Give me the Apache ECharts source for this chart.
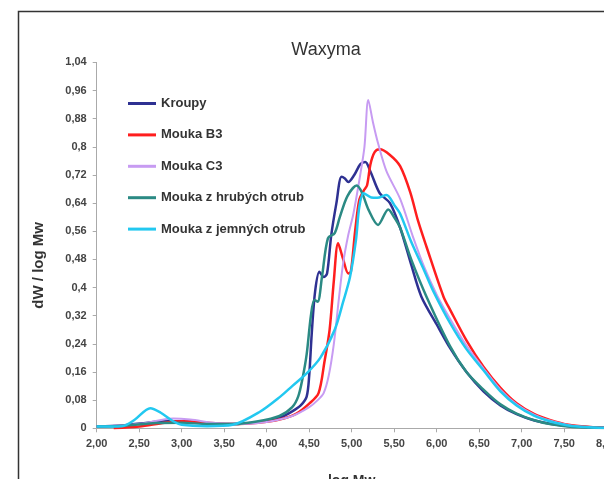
<!DOCTYPE html>
<html>
<head>
<meta charset="utf-8">
<script src="https://cdn.jsdelivr.net/npm/echarts@6/dist/echarts.min.js"></script>
<style>
	html, body { margin: 0; padding: 0; background: #fff; }
	#chart { width: 604px; height: 479px; }
</style>
</head>
<body>
<div id="chart"></div>
<script>
// data: [log Mw, dW / log Mw]
var seriesNames = ['Kroupy', 'Mouka B3', 'Mouka C3', 'Mouka z hrubých otrub', 'Mouka z jemných otrub'];

var kroupy = [[2.00,0.005],[2.30,0.008],[2.60,0.016],[2.80,0.02],[3.00,0.02],[3.30,0.014],[3.60,0.012],[3.90,0.018],[4.15,0.03],[4.30,0.048],[4.40,0.065],[4.47,0.09],[4.50,0.15],[4.53,0.27],[4.57,0.39],[4.62,0.445],[4.67,0.43],[4.71,0.44],[4.76,0.55],[4.82,0.64],[4.88,0.715],[4.92,0.71],[4.96,0.70],[5.03,0.72],[5.10,0.75],[5.16,0.757],[5.22,0.73],[5.33,0.668],[5.45,0.64],[5.57,0.57],[5.70,0.465],[5.82,0.374],[6.00,0.295],[6.16,0.227],[6.35,0.16],[6.55,0.105],[6.75,0.065],[6.94,0.04],[7.15,0.022],[7.35,0.012],[7.60,0.005],[8.00,0.002]];

var moukaB3 = [[2.20,0.0],[2.50,0.005],[2.80,0.016],[3.00,0.02],[3.30,0.016],[3.60,0.012],[3.90,0.016],[4.15,0.025],[4.35,0.042],[4.50,0.07],[4.61,0.10],[4.68,0.19],[4.74,0.28],[4.79,0.42],[4.84,0.526],[4.90,0.48],[4.96,0.44],[4.99,0.445],[5.04,0.56],[5.09,0.65],[5.14,0.675],[5.18,0.69],[5.22,0.75],[5.27,0.785],[5.33,0.793],[5.45,0.777],[5.57,0.745],[5.69,0.67],[5.78,0.59],[5.88,0.516],[6.08,0.374],[6.16,0.336],[6.35,0.25],[6.55,0.175],[6.75,0.115],[6.94,0.071],[7.15,0.04],[7.33,0.024],[7.55,0.01],[7.80,0.004],[8.00,0.002]];

var moukaC3 = [[2.00,0.005],[2.50,0.012],[2.90,0.028],[3.10,0.025],[3.40,0.015],[3.70,0.012],[4.00,0.018],[4.30,0.035],[4.50,0.06],[4.60,0.08],[4.67,0.10],[4.73,0.15],[4.79,0.24],[4.85,0.37],[4.90,0.47],[4.96,0.55],[5.02,0.61],[5.10,0.72],[5.15,0.80],[5.195,0.933],[5.25,0.87],[5.31,0.81],[5.41,0.73],[5.57,0.652],[5.72,0.545],[5.85,0.46],[6.00,0.38],[6.16,0.31],[6.35,0.235],[6.55,0.17],[6.75,0.11],[6.94,0.068],[7.15,0.038],[7.33,0.022],[7.55,0.009],[7.80,0.003],[8.00,0.001]];

var hrubych = [[2.00,0.005],[2.30,0.007],[2.70,0.015],[3.00,0.016],[3.30,0.012],[3.60,0.012],[3.90,0.02],[4.15,0.035],[4.30,0.06],[4.37,0.09],[4.42,0.14],[4.47,0.21],[4.52,0.32],[4.56,0.365],[4.60,0.36],[4.65,0.43],[4.72,0.54],[4.80,0.555],[4.86,0.60],[4.95,0.66],[5.06,0.69],[5.12,0.67],[5.20,0.62],[5.31,0.578],[5.43,0.622],[5.50,0.60],[5.57,0.57],[5.70,0.48],[5.88,0.374],[6.16,0.232],[6.35,0.16],[6.55,0.11],[6.75,0.068],[6.94,0.042],[7.15,0.023],[7.33,0.012],[7.60,0.004],[8.00,0.001]];

var jemnych = [[2.00,0.005],[2.30,0.006],[2.45,0.025],[2.63,0.057],[2.75,0.045],[2.90,0.02],[3.00,0.01],[3.30,0.006],[3.60,0.01],[3.92,0.047],[4.16,0.09],[4.30,0.12],[4.47,0.156],[4.63,0.20],[4.80,0.28],[4.90,0.36],[4.98,0.43],[5.05,0.535],[5.09,0.63],[5.14,0.668],[5.23,0.656],[5.30,0.655],[5.41,0.663],[5.50,0.635],[5.57,0.61],[5.70,0.53],[5.85,0.45],[5.96,0.39],[6.16,0.298],[6.35,0.225],[6.55,0.165],[6.75,0.105],[6.94,0.065],[7.15,0.035],[7.33,0.02],[7.55,0.008],[7.80,0.003],[8.00,0.001]];

var colors = ['#2e3192', '#ff1e1e', '#c79bf2', '#2b8a84', '#22c8f0'];
var allData = [kroupy, moukaB3, moukaC3, hrubych, jemnych];

var myChart = echarts.init(document.getElementById('chart'));

var series = [];
for (var i = 0; i < seriesNames.length; i++) {
	series.push({
		name: seriesNames[i],
		type: 'line',
		data: allData[i],
		symbol: 'none',
		smooth: 0.3,
		lineStyle: { color: colors[i], width: i == 2 ? 2 : 2.5 },
		itemStyle: { color: colors[i] }
	});
}

var option = {
	backgroundColor: '#fff',
	animation: false,
	graphic: [{
		type: 'rect',
		shape: { x: 18.5, y: 11.5, width: 700, height: 600 },
		style: { fill: 'none', stroke: '#333', lineWidth: 1.5 },
		z: -1
	}],
	title: {
		text: 'Waxyma',
		left: 321,
		top: 36,
		textAlign: 'center',
		textStyle: { color: '#333', fontSize: 18, fontWeight: 'normal', fontFamily: 'Liberation Sans' }
	},
	legend: {
		orient: 'vertical',
		left: 123,
		top: 92,
		icon: 'rect',
		itemWidth: 28,
		itemHeight: 3,
		itemGap: 18.4,
		data: seriesNames,
		textStyle: { color: '#333', fontSize: 13, fontWeight: 'bold', fontFamily: 'Liberation Sans' }
	},
	grid: {
		left: 96.7,
		top: 62.4,
		right: -2.7,
		bottom: 50.7,
		outerBoundsMode: 'none'
	},
	xAxis: {
		type: 'value',
		min: 2,
		max: 8,
		interval: 0.5,
		name: 'log Mw',
		nameLocation: 'middle',
		nameGap: 46,
		nameTextStyle: { color: '#333', fontSize: 14, fontWeight: 'bold', fontFamily: 'Liberation Sans' },
		axisLine: { lineStyle: { color: '#aaa' } },
		axisTick: { show: true, length: 4, lineStyle: { color: '#aaa' } },
		splitLine: { show: false },
		axisLabel: {
			color: '#444',
			fontSize: 11,
			fontWeight: 'bold',
			fontFamily: 'Liberation Sans',
			margin: 10,
			formatter: function(v) { return v.toFixed(2).replace('.', ','); }
		}
	},
	yAxis: {
		type: 'value',
		min: 0,
		max: 1.04,
		interval: 0.08,
		name: 'dW / log Mw',
		nameLocation: 'middle',
		nameGap: 50,
		nameTextStyle: { color: '#333', fontSize: 15, fontWeight: 'bold', fontFamily: 'Liberation Sans', padding: [0, 40, 0, 0] },
		axisLine: { show: true, lineStyle: { color: '#aaa' } },
		axisTick: { show: true, length: 4, lineStyle: { color: '#aaa' } },
		splitLine: { show: false },
		axisLabel: {
			color: '#444',
			fontSize: 11,
			fontWeight: 'bold',
			fontFamily: 'Liberation Sans',
			margin: 10,
			formatter: function(v) { return String(+v.toFixed(2)).replace('.', ','); }
		}
	},
	series: series
};
myChart.setOption(option);
</script>
</body>
</html>
